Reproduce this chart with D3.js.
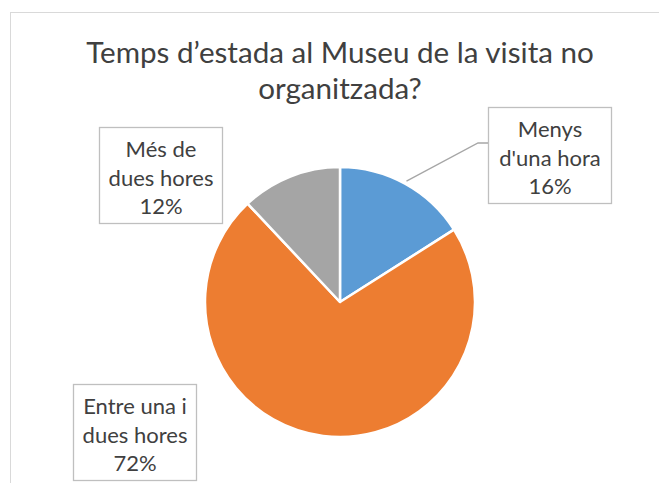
<!DOCTYPE html>
<html>
<head>
<meta charset="utf-8">
<script src="https://cdn.jsdelivr.net/npm/d3@7"></script>
<style>
  body { margin: 0; background: #fff; }
  svg text { font-family: Lato, "Open Sans", sans-serif; fill: #404040; }
</style>
</head>
<body>
<div id="graphicContainer"></div>
<script>
// chart data
const titleLines = ["Temps d’estada al Museu de la visita no", "organitzada?"];
const categories = ["Menys d'una hora", "Entre una i dues hores", "Més de dues hores"];
const labelLines = [["Menys", "d'una hora"], ["Entre una i", "dues hores"], ["Més de", "dues hores"]];
const values = [16, 72, 12];
const sliceColors = ["#5B9BD5", "#ED7D31", "#A5A5A5"];

function renderPie() {
    const width = 659, height = 483;
    const svg = d3.select("#graphicContainer").append("svg")
        .attr("width", width)
        .attr("height", height);

    // chart area frame (runs off the right and bottom edge)
    svg.append("rect")
        .attr("x", 10.5).attr("y", 12.5)
        .attr("width", 700).attr("height", 520)
        .attr("fill", "#fff")
        .attr("stroke", "#d9d9d9");

    // title
    svg.append("g").selectAll("text")
        .data(titleLines)
        .enter().append("text")
        .attr("x", 340)
        .attr("y", (d, i) => 63 + i * 36)
        .attr("text-anchor", "middle")
        .style("font-size", "29.6px")
        .text(d => d);

    const cx = 340, cy = 302, radius = 135;
    const g = svg.append("g").attr("transform", `translate(${cx},${cy})`);

    const pie = d3.pie().sort(null).value(d => d);
    const arcs = pie(values);
    const arc = d3.arc().innerRadius(0).outerRadius(radius);

    g.selectAll("path")
        .data(arcs)
        .enter().append("path")
        .attr("d", arc)
        .attr("fill", (d, i) => sliceColors[i])
        .attr("stroke", "#fff")
        .attr("stroke-width", 2.5)
        .attr("stroke-linejoin", "round");

    // label boxes, placed like the excel data labels
    const boxW = 123, boxH = 96;
    const boxPos = [[488, 107], [73, 384], [99, 127]];
    const total = d3.sum(values);

    const labels = svg.append("g").selectAll("g")
        .data(arcs)
        .enter().append("g")
        .attr("transform", (d, i) => `translate(${boxPos[i][0]},${boxPos[i][1]})`);

    labels.append("rect")
        .attr("x", 0.5).attr("y", 0.5)
        .attr("width", boxW).attr("height", boxH)
        .attr("fill", "#fff")
        .attr("stroke", "#bfbfbf")
        .attr("stroke-width", 1.3);

    labels.each(function (d, i) {
        const lines = labelLines[i].concat([Math.round(d.value / total * 100) + "%"]);
        d3.select(this).selectAll("text")
            .data(lines)
            .enter().append("text")
            .attr("x", boxW / 2 + 0.5)
            .attr("y", (t, j) => 30 + j * 28.5)
            .attr("text-anchor", "middle")
            .style("font-size", "22px")
            .text(t => t);
    });

    // leader line for the first slice
    const outer = d3.arc().innerRadius(radius + 3).outerRadius(radius + 3);
    const p0 = outer.centroid(arcs[0]);
    const bx = boxPos[0][0], by = boxPos[0][1] + 36;
    svg.append("polyline")
        .attr("points", [[cx + p0[0], cy + p0[1]], [bx - 10, by], [bx, by]].map(p => p.join(",")).join(" "))
        .attr("fill", "none")
        .attr("stroke", "#a6a6a6")
        .attr("stroke-width", 1.3);
}

renderPie();
</script>
</body>
</html>
